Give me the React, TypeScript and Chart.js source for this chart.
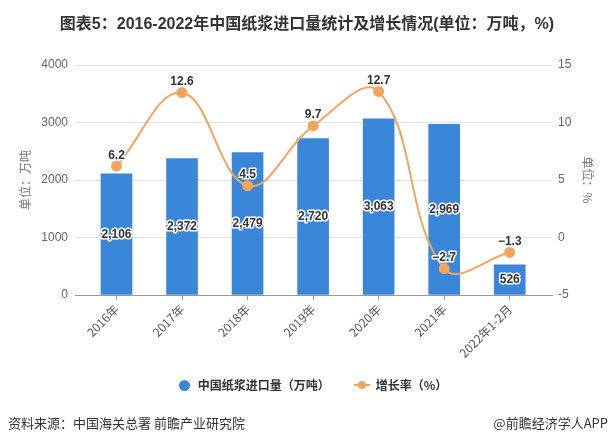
import React, { useEffect, useRef } from "react";
import { Chart, registerables } from "chart.js";
Chart.register(...registerables);

const categories = ["2016年", "2017年", "2018年", "2019年", "2020年", "2021年", "2022年1-2月"];
const importVolume = [2106, 2372, 2479, 2720, 3063, 2969, 526];
const growthRate = [6.2, 12.6, 4.5, 9.7, 12.7, -2.7, -1.3];
const leftTicks = [0, 1000, 2000, 3000, 4000];
const rightTicks = [-5, 0, 5, 10, 15];

const TITLE = "图表5：2016-2022年中国纸浆进口量统计及增长情况(单位：万吨，%)";
const SERIES1 = "中国纸浆进口量（万吨）";
const SERIES2 = "增长率（%）";
const SOURCE = "资料来源：中国海关总署 前瞻产业研究院";
const BRAND = "@前瞻经济学人APP";

const FONT = "'Liberation Sans', 'Noto Sans CJK SC', sans-serif";
const CJK = "'Noto Sans CJK SC', 'Liberation Sans', sans-serif";
const BAR_COLOR = "#3a87d9";
const LINE_COLOR = "#f0a55e";

const fmtRate = (v: number) => (v < 0 ? "\u2212" + Math.abs(v).toFixed(1) : v.toFixed(1));

const labelPlugin = {
  id: "valueLabels",
  afterDatasetsDraw(chart: any) {
    const ctx = chart.ctx;
    ctx.save();
    ctx.font = `bold 12px ${FONT}`;
    ctx.textAlign = "center";
    ctx.textBaseline = "middle";
    ctx.lineJoin = "round";
    const draw = (t: string, x: number, y: number) => {
      ctx.lineWidth = 3;
      ctx.strokeStyle = "#ffffff";
      ctx.strokeText(t, x, y);
      ctx.fillStyle = "#333333";
      ctx.fillText(t, x, y);
    };
    const barMeta = chart.getDatasetMeta(0);
    barMeta.data.forEach((el: any, i: number) => {
      draw(importVolume[i].toLocaleString("en-US"), el.x, (el.y + el.base) / 2);
    });
    const lineMeta = chart.getDatasetMeta(1);
    lineMeta.data.forEach((el: any, i: number) => {
      draw(fmtRate(growthRate[i]), el.x, el.y - 11);
    });
    ctx.restore();
  },
};

function ChartCanvas() {
  const ref = useRef<HTMLCanvasElement | null>(null);
  useEffect(() => {
    if (!ref.current) return;
    const chart = new Chart(ref.current, {
      data: {
        datasets: [
          {
            type: "bar",
            label: SERIES1,
            data: importVolume.map((v, i) => ({ x: i, y: v })),
            backgroundColor: BAR_COLOR,
            barThickness: 31,
            yAxisID: "y",
            order: 2,
          },
          {
            type: "line",
            label: SERIES2,
            data: growthRate.map((v, i) => ({ x: i, y: v })),
            borderColor: LINE_COLOR,
            backgroundColor: LINE_COLOR,
            borderWidth: 2,
            pointRadius: 4.5,
            pointBackgroundColor: LINE_COLOR,
            pointBorderColor: LINE_COLOR,
            tension: 0.4,
            yAxisID: "y1",
            order: 1,
          },
        ] as any,
      },
      options: {
        animation: false,
        responsive: false,
        maintainAspectRatio: false,
        layout: { padding: { left: 14, right: 15, top: 65, bottom: 66 } },
        plugins: { legend: { display: false }, title: { display: false }, tooltip: { enabled: false } },
        scales: {
          x: {
            type: "linear",
            offset: false,
            min: -0.633,
            max: 6.645,
            afterBuildTicks: (scale: any) => {
              scale.ticks = categories.map((_, i) => ({ value: i }));
            },
            afterFit: (scale: any) => {
              scale.height = 80;
            },
            ticks: {
              autoSkip: false,
              minRotation: 45,
              maxRotation: 45,
              padding: 2,
              color: "#555",
              font: { size: 12, family: CJK },
              callback: (v: any) => categories[v as number] ?? "",
            },
            grid: { display: true, offset: false, drawOnChartArea: false, drawTicks: true, tickLength: 5, color: "#999" },
            border: { display: true, color: "#999" },
          },
          y: {
            type: "linear",
            position: "left",
            min: 0,
            max: 4000,
            afterBuildTicks: (scale: any) => {
              scale.ticks = leftTicks.map((v) => ({ value: v }));
            },
            afterFit: (scale: any) => {
              scale.width = 61;
            },
            ticks: { padding: 7, color: "#666", font: { size: 12, family: FONT }, callback: (v: any) => String(v) },
            grid: { color: "#e2e2e2", drawTicks: false },
            border: { display: false },
            title: { display: true, text: "单位：万吨", color: "#777", font: { size: 12, family: CJK } },
          },
          y1: {
            type: "linear",
            position: "right",
            min: -5,
            max: 15,
            afterBuildTicks: (scale: any) => {
              scale.ticks = rightTicks.map((v) => ({ value: v }));
            },
            afterFit: (scale: any) => {
              scale.width = 47;
            },
            ticks: { padding: 6, color: "#666", font: { size: 12, family: FONT }, callback: (v: any) => String(v) },
            grid: { drawOnChartArea: false, drawTicks: false },
            border: { display: false },
            title: { display: true, text: "单位：%", color: "#777", font: { size: 12, family: CJK } },
          },
        },
      } as any,
      plugins: [labelPlugin],
    });
    return () => chart.destroy();
  }, []);
  return <canvas ref={ref} width={614} height={441} style={{ position: "absolute", left: 0, top: 0, width: 614, height: 441 }} />;
}

export default function App() {
  useEffect(() => {
    document.body.style.margin = "0";
  }, []);
  return (
    <div style={{ position: "relative", width: 614, height: 441, background: "#fff", overflow: "hidden", fontFamily: CJK }}>
      <ChartCanvas />
      <div
        style={{
          position: "absolute",
          left: 0,
          top: 13,
          width: 614,
          textAlign: "center",
          fontSize: 16,
          fontWeight: "bold",
          color: "#333",
          fontFamily: FONT,
          lineHeight: "22px",
          whiteSpace: "nowrap",
        }}
      >
        {TITLE}
      </div>
      <div
        style={{
          position: "absolute",
          left: 0,
          top: 376,
          width: 614,
          display: "flex",
          justifyContent: "center",
          alignItems: "center",
          fontSize: 12,
          fontWeight: "bold",
          color: "#333",
          lineHeight: "18px",
          paddingLeft: 12,
          boxSizing: "border-box",
        }}
      >
        <span style={{ display: "inline-block", width: 11, height: 11, borderRadius: "50%", background: BAR_COLOR, marginRight: 8 }} />
        <span>{SERIES1}</span>
        <span style={{ display: "inline-block", position: "relative", width: 16, height: 11, marginLeft: 24, marginRight: 6 }}>
          <span style={{ position: "absolute", left: 0, top: 4.5, width: 16, height: 2, background: LINE_COLOR }} />
          <span style={{ position: "absolute", left: 4, top: 1.5, width: 8, height: 8, borderRadius: "50%", background: LINE_COLOR }} />
        </span>
        <span>{SERIES2}</span>
      </div>
      <div style={{ position: "absolute", left: 8, top: 414, fontSize: 13, color: "#333", lineHeight: "18px", whiteSpace: "nowrap" }}>
        {SOURCE}
      </div>
      <div style={{ position: "absolute", right: 6, top: 414, fontSize: 13, color: "#333", lineHeight: "18px", whiteSpace: "nowrap" }}>
        {BRAND}
      </div>
    </div>
  );
}
